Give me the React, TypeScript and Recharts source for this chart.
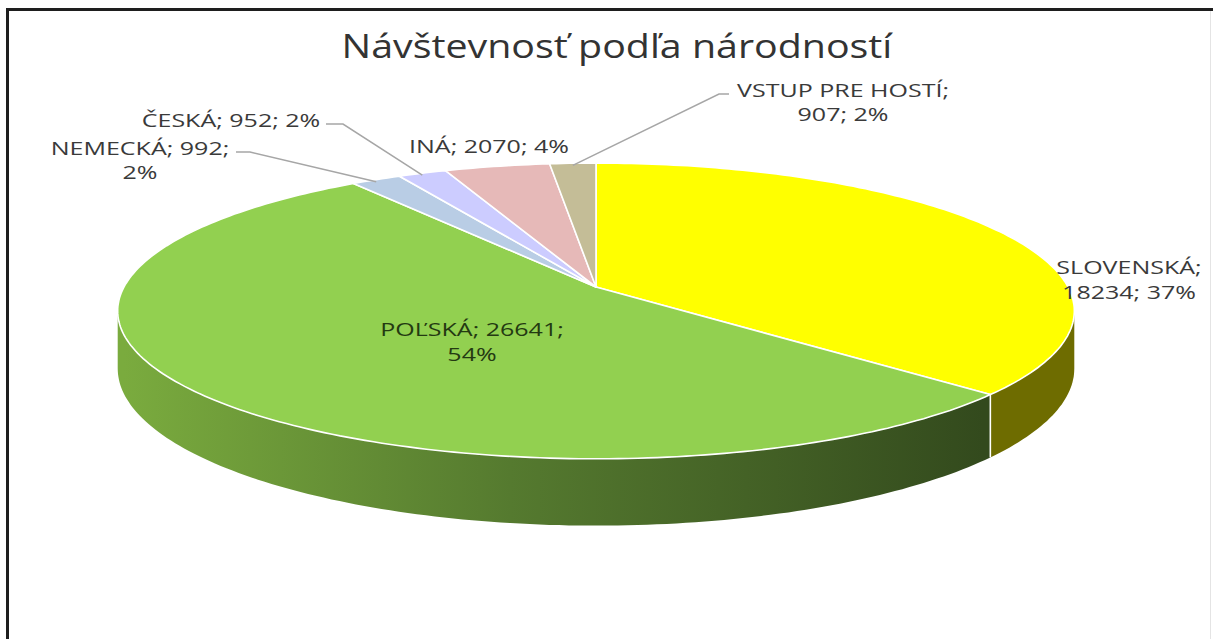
import React from 'react';
import { PieChart, Pie, Cell } from 'recharts';

const NAMES = ['SLOVENSKÁ', 'POĽSKÁ', 'NEMECKÁ', 'ČESKÁ', 'INÁ', 'VSTUP PRE HOSTÍ'];
const VALUES = [18234, 26641, 992, 952, 2070, 907];
const TOP_COLORS = ['#ffff00', '#92d050', '#b9cde5', '#ccccff', '#e6b9b8', '#c4bd97'];
const SIDE_COLORS = ['#6e6c00', 'url(#greenSide)', '#7f8fa0', '#8f8fb3', '#a68483', '#8c876c'];
// how many of [name, value, percent] go on the first line (0 = single line)
const WRAP = [1, 2, 2, 0, 0, 1];

const data = NAMES.map((name, i) => ({ name, value: VALUES[i] }));

const W = 1213;
const H = 639;
// 3d look: vertical squash, perspective strength, wall height
const TILT = 0.305;
const PERSP = 0.162;
const DEPTH = 56;
const RAD = Math.PI / 180;
const FONT = '"Open Sans", sans-serif';
const TEXT_SX = 1.43;

// label placement (text centre x, baselines) and optional leader elbow
const LABEL_LAYOUT: any[] = [
  { x: 1129, y: [274, 299] },
  { x: 472, y: [336, 361], color: '#243a12' },
  { x: 140, y: [155, 179], leader: [[236, 152], [250, 152]] },
  { x: 231, y: [127], leader: [[326, 124], [343, 124]] },
  { x: 489, y: [153] },
  { x: 843, y: [97, 121], leader: [[729, 94], [719, 94]] },
];

// projected point of the pie rim at angle a (degrees)
const rim = (cx: number, cy: number, r: number, a: number): [number, number] => {
  const s = Math.sin(a * RAD);
  const f = 1 / (1 + PERSP * s);
  return [cx + r * Math.cos(a * RAD) * f, cy - r * TILT * s * f];
};
const depthAt = (a: number) => DEPTH / (1 + PERSP * Math.sin(a * RAD));

const arcAngles = (a1: number, a2: number) => {
  const n = Math.max(2, Math.ceil(Math.abs(a2 - a1)));
  const out: number[] = [];
  for (let i = 0; i <= n; i++) out.push(a1 + ((a2 - a1) * i) / n);
  return out;
};

const TopShape = (props: any) => {
  const { cx, cy, outerRadius, startAngle, endAngle, fill } = props;
  const pts = arcAngles(startAngle, endAngle).map((a) => rim(cx, cy, outerRadius, a));
  const d = `M${cx},${cy} ` + pts.map((p) => `L${p[0].toFixed(1)},${p[1].toFixed(1)}`).join(' ') + ' Z';
  return <path d={d} fill={fill} stroke="#ffffff" strokeWidth={1.6} strokeLinejoin="round" />;
};

const SILHOUETTE = Math.asin(PERSP) / RAD;

const SideShape = (props: any) => {
  const { cx, cy, outerRadius, startAngle, endAngle, fill } = props;
  const a1 = Math.min(startAngle, -SILHOUETTE);
  const a2 = Math.max(endAngle, -180 + SILHOUETTE);
  if (a1 <= a2) return <g />;
  const angles = arcAngles(a1, a2);
  const top = angles.map((a) => rim(cx, cy, outerRadius, a));
  const bottom = angles.map((a, i) => [top[i][0], top[i][1] + depthAt(a)]).reverse();
  const d =
    'M' + top.map((p) => `${p[0].toFixed(1)},${p[1].toFixed(1)}`).join(' L') +
    ' L' + bottom.map((p) => `${p[0].toFixed(1)},${p[1].toFixed(1)}`).join(' L') + ' Z';
  const hasEdge = startAngle < -SILHOUETTE && startAngle > -180 + SILHOUETTE;
  const edge = hasEdge ? rim(cx, cy, outerRadius, startAngle) : null;
  return (
    <g>
      <defs>
        <linearGradient id="greenSide" gradientUnits="userSpaceOnUse" x1={cx - outerRadius} y1={0} x2={cx + outerRadius * 0.82} y2={0}>
          <stop offset="0%" stopColor="#7aab3e" />
          <stop offset="45%" stopColor="#557a2f" />
          <stop offset="100%" stopColor="#334a1d" />
        </linearGradient>
      </defs>
      <path d={d} fill={fill} stroke="none" />
      {edge && (
        <line x1={edge[0]} y1={edge[1]} x2={edge[0]} y2={edge[1] + depthAt(startAngle)} stroke="#ffffff" strokeWidth={1.6} />
      )}
    </g>
  );
};

const renderLabel = (props: any) => {
  const { index, cx, cy, outerRadius, midAngle, percent } = props;
  const layout = LABEL_LAYOUT[index];
  const parts = [`${NAMES[index]};`, `${VALUES[index]};`, `${Math.round(percent * 100)}%`];
  const wrap = WRAP[index];
  const lines = wrap === 0 ? [parts.join(' ')] : [parts.slice(0, wrap).join(' '), parts.slice(wrap).join(' ')];
  const end = rim(cx, cy, outerRadius, midAngle);
  return (
    <g key={`lbl-${index}`}>
      {layout.leader && (
        <polyline
          points={`${layout.leader[0][0]},${layout.leader[0][1]} ${layout.leader[1][0]},${layout.leader[1][1]} ${end[0].toFixed(1)},${(end[1] + 2).toFixed(1)}`}
          fill="none"
          stroke="#a6a6a6"
          strokeWidth={1.5}
        />
      )}
      {lines.map((t, i) => (
        <text
          key={i}
          transform={`translate(${layout.x},${layout.y[i]}) scale(${TEXT_SX},1)`}
          x={0}
          y={0}
          textAnchor="middle"
          fontFamily={FONT}
          fontSize={17.5}
          fill={layout.color || '#3a3a3a'}
        >
          {t}
        </text>
      ))}
    </g>
  );
};

export default function App() {
  return (
    <div style={{ position: 'absolute', left: 0, top: 0, width: W, height: H, background: '#ffffff', overflow: 'hidden' }}>
      <div style={{ position: 'absolute', left: 6, top: 8, width: W - 6, height: 3, background: '#1e1e1e' }} />
      <div style={{ position: 'absolute', left: 6, top: 8, width: 3, height: H - 8, background: '#1e1e1e' }} />
      <div style={{ position: 'absolute', left: 1210, top: 11, width: 1, height: H - 11, background: '#e4e4e4' }} />
      <div
        style={{
          position: 'absolute',
          left: 0,
          top: 24,
          width: W,
          textAlign: 'center',
          fontFamily: FONT,
          fontSize: 32,
          lineHeight: '44px',
          color: '#333333',
        }}
      >
        <span style={{ display: 'inline-block', transform: 'scaleX(1.23)', marginLeft: 20 }}>Návštevnosť podľa národností</span>
      </div>
      <div style={{ position: 'absolute', left: 0, top: 0 }}>
        <PieChart width={W} height={H} margin={{ top: 0, right: 0, bottom: 0, left: 0 }}>
          <Pie
            data={data}
            dataKey="value"
            nameKey="name"
            cx={596}
            cy={287}
            outerRadius={472}
            startAngle={90}
            endAngle={-270}
            isAnimationActive={false}
            shape={SideShape}
            label={false}
            labelLine={false}
          >
            {data.map((_, i) => (
              <Cell key={`side-${i}`} fill={SIDE_COLORS[i]} />
            ))}
          </Pie>
          <Pie
            data={data}
            dataKey="value"
            nameKey="name"
            cx={596}
            cy={287}
            outerRadius={472}
            startAngle={90}
            endAngle={-270}
            isAnimationActive={false}
            shape={TopShape}
            label={renderLabel}
            labelLine={false}
          >
            {data.map((_, i) => (
              <Cell key={`top-${i}`} fill={TOP_COLORS[i]} />
            ))}
          </Pie>
        </PieChart>
      </div>
    </div>
  );
}
